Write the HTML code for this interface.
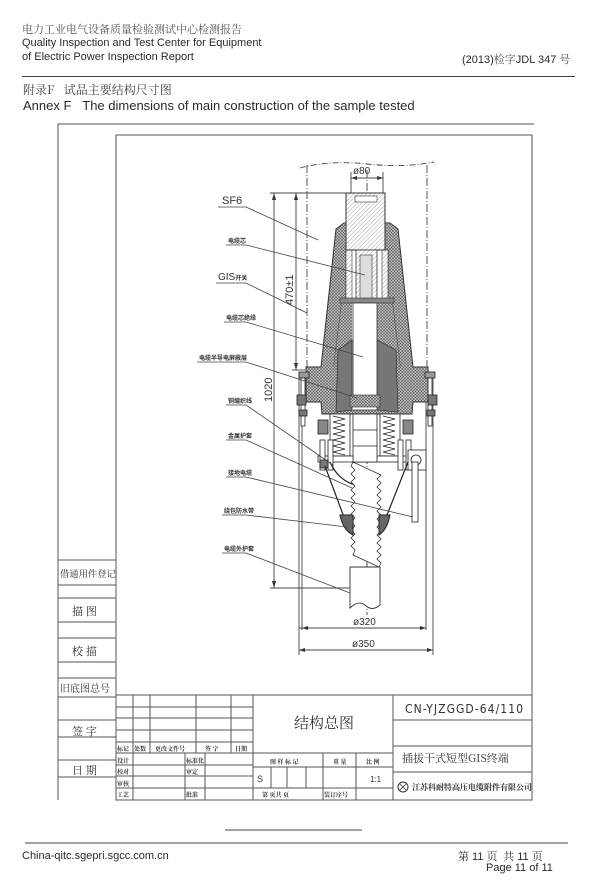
<!DOCTYPE html>
<html><head><meta charset="utf-8">
<style>
html,body{margin:0;padding:0;background:#fff;}
body{width:600px;height:883px;position:relative;overflow:hidden;font-family:"Liberation Sans","Noto Sans CJK SC",sans-serif;color:#2a2a2a;}
.t{position:absolute;white-space:nowrap;}
.cn{font-family:"Noto Serif CJK SC","Noto Sans CJK SC",serif;}
</style></head><body>
<div class="t cn" style="left:22px;top:21px;font-size:11px;color:#555;">电力工业电气设备质量检验测试中心检测报告</div>
<div class="t" style="left:22px;top:37px;font-size:11px;">Quality Inspection and Test Center for Equipment</div>
<div class="t" style="left:22px;top:51px;font-size:11px;">of Electric Power Inspection Report</div>
<div class="t" style="left:462px;top:51px;font-size:11px;">(2013)<span class="cn" style="color:#555">检字</span>JDL 347 <span class="cn" style="color:#555">号</span></div>
<div style="position:absolute;left:22px;top:76px;width:553px;height:1px;background:#444;"></div>
<div class="t cn" style="left:23px;top:81px;font-size:12px;color:#444;">附录F&nbsp;&nbsp;&nbsp;试品主要结构尺寸图</div>
<div class="t" style="left:23px;top:98px;font-size:13px;">Annex F&nbsp;&nbsp;&nbsp;The dimensions of main construction of the sample tested</div>

<svg style="position:absolute;left:0;top:0" width="600" height="883" viewBox="0 0 600 883" xmlns="http://www.w3.org/2000/svg">
<defs>
<pattern id="x" width="3" height="3" patternUnits="userSpaceOnUse">
<rect width="3" height="3" fill="#cccccc"/><path d="M0 0L3 3M3 0L0 3" stroke="#555" stroke-width="0.6"/>
</pattern>
<pattern id="h" width="3" height="3" patternUnits="userSpaceOnUse" patternTransform="rotate(45)">
<rect width="3" height="3" fill="#fff"/><line x1="0" y1="0" x2="0" y2="3" stroke="#666" stroke-width="0.6"/>
</pattern>
</defs>
<g fill="none" stroke="#555" stroke-width="1">
<polyline points="58,800 58,124 534,124"/>
<rect x="116" y="135" width="416" height="665"/>
<line x1="58" y1="560" x2="116" y2="560"/><line x1="58" y1="585" x2="116" y2="585"/>
<line x1="58" y1="598" x2="116" y2="598"/><line x1="58" y1="622" x2="116" y2="622"/>
<line x1="58" y1="638" x2="116" y2="638"/><line x1="58" y1="662" x2="116" y2="662"/>
<line x1="58" y1="678" x2="116" y2="678"/><line x1="58" y1="697" x2="116" y2="697"/>
<line x1="58" y1="720" x2="116" y2="720"/><line x1="58" y1="737" x2="116" y2="737"/>
<line x1="58" y1="760" x2="116" y2="760"/><line x1="58" y1="777" x2="116" y2="777"/>
<line x1="116" y1="695" x2="532" y2="695"/>
<line x1="116" y1="707" x2="253" y2="707"/><line x1="116" y1="718" x2="253" y2="718"/>
<line x1="116" y1="730" x2="253" y2="730"/><line x1="116" y1="742" x2="253" y2="742"/>
<line x1="116" y1="753" x2="253" y2="753"/><line x1="116" y1="765" x2="253" y2="765"/>
<line x1="116" y1="776" x2="253" y2="776"/><line x1="116" y1="788" x2="253" y2="788"/>
<line x1="133" y1="695" x2="133" y2="800"/><line x1="150" y1="695" x2="150" y2="753"/>
<line x1="196" y1="695" x2="196" y2="753"/><line x1="231" y1="695" x2="231" y2="753"/>
<line x1="185" y1="753" x2="185" y2="800"/><line x1="205" y1="753" x2="205" y2="800"/>
<line x1="253" y1="695" x2="253" y2="800"/>
<line x1="253" y1="753" x2="393" y2="753"/><line x1="253" y1="767" x2="393" y2="767"/><line x1="253" y1="788" x2="393" y2="788"/>
<line x1="271" y1="767" x2="271" y2="788"/><line x1="287" y1="767" x2="287" y2="788"/><line x1="306" y1="767" x2="306" y2="788"/>
<line x1="323" y1="753" x2="323" y2="800"/><line x1="356" y1="753" x2="356" y2="800"/>
<line x1="393" y1="695" x2="393" y2="800"/>
<line x1="393" y1="720" x2="532" y2="720"/><line x1="393" y1="746" x2="532" y2="746"/><line x1="393" y1="772" x2="532" y2="772"/>
</g>

<g stroke="#444" stroke-width="0.9" fill="none">
<path d="M300 168 Q330 160 367 164 T434 162" stroke-dasharray="6,2,1,2"/>
<line x1="307" y1="165" x2="307" y2="372" stroke-dasharray="8,2,1,2"/>
<line x1="427" y1="165" x2="427" y2="372" stroke-dasharray="8,2,1,2"/>
<line x1="367" y1="170" x2="367" y2="615" stroke-dasharray="8,2,1,2"/>
<line x1="299" y1="372" x2="299" y2="655"/>
<line x1="433" y1="372" x2="433" y2="655"/>
<line x1="302" y1="372" x2="302" y2="630"/>
<line x1="426" y1="372" x2="426" y2="630"/>
<line x1="299" y1="628" x2="426" y2="628"/>
<line x1="299" y1="650" x2="433" y2="650"/>
<line x1="351" y1="172" x2="351" y2="195"/><line x1="383" y1="172" x2="383" y2="195"/>
<line x1="351" y1="178" x2="383" y2="178"/>
<line x1="270" y1="193" x2="347" y2="193"/>
<line x1="274" y1="193" x2="274" y2="588"/>
<line x1="270" y1="588" x2="352" y2="588"/>
<line x1="296" y1="193" x2="296" y2="370"/>
<line x1="292" y1="370" x2="305" y2="370"/>
</g>
<g fill="#333">
<path d="M274 193l-2 7h4z"/><path d="M274 588l-2 -7h4z"/>
<path d="M296 193l-2 7h4z"/><path d="M296 370l-2 -7h4z"/>
<path d="M351 178l6 -2v4z"/><path d="M383 178l-6 -2v4z"/>
<path d="M302 628l6 -2v4z"/><path d="M426 628l-6 -2v4z"/>
<path d="M299 650l6 -2v4z"/><path d="M433 650l-6 -2v4z"/>
</g>

<path d="M336 229 L344 223 L390 223 L398 229 L413 367 L428 367 L428 402 L413 402 L412 414 L322 414 L321 402 L306 402 L306 367 L321 367 Z" fill="url(#x)" stroke="#333" stroke-width="1"/>
<path d="M346 250 L388 250 L388 300 L392 300 L400 365 L392 410 L342 410 L334 365 L342 300 L346 300 Z" fill="#fff" stroke="#333" stroke-width="0.8"/>
<path d="M346 250 L352 250 L352 300 L346 300 Z M382 250 L388 250 L388 300 L382 300 Z" fill="url(#h)" stroke="#333" stroke-width="0.6"/>
<path d="M342 300 L352 300 L352 398 L336 390 L334 365 Z" fill="url(#x)" stroke="none"/>
<path d="M392 300 L377 300 L377 398 L398 390 L400 365 Z" fill="url(#x)" stroke="none"/>
<path d="M338 350 L352 340 L352 410 L336 412 Z" fill="#777" stroke="#222" stroke-width="0.6"/>
<path d="M396 350 L377 340 L377 410 L398 412 Z" fill="#777" stroke="#222" stroke-width="0.6"/>
<rect x="346" y="193" width="39" height="57" fill="url(#h)" stroke="#333"/>
<rect x="355" y="196" width="22" height="6" fill="#fff" stroke="#333" stroke-width="0.6"/>
<rect x="356" y="250" width="21" height="50" fill="url(#h)" stroke="#333" stroke-width="0.8"/>
<rect x="360" y="255" width="12" height="45" fill="#ddd" stroke="#333" stroke-width="0.6"/>
<rect x="340" y="298" width="54" height="5" fill="#888" stroke="#333" stroke-width="0.6"/>
<rect x="353" y="303" width="24" height="95" fill="#fff" stroke="#333" stroke-width="0.8"/>
<rect x="350" y="395" width="30" height="12" fill="url(#x)" stroke="#333" stroke-width="0.6"/>
<g stroke="#222" stroke-width="0.8">
<rect x="299" y="372" width="10" height="6" fill="#999"/><rect x="301" y="378" width="4" height="48" fill="#fff"/>
<rect x="297" y="395" width="9" height="10" fill="#777"/><rect x="299" y="410" width="8" height="6" fill="#777"/>
<rect x="425" y="372" width="10" height="6" fill="#999"/><rect x="428" y="378" width="4" height="48" fill="#fff"/>
<rect x="428" y="395" width="9" height="10" fill="#777"/><rect x="427" y="410" width="8" height="6" fill="#777"/>
<rect x="330" y="414" width="20" height="42" fill="#fff"/>
<rect x="380" y="414" width="20" height="42" fill="#fff"/>
<path d="M333 416 l12 3 l-12 3 l12 3 l-12 3 l12 3 l-12 3 l12 3 l-12 3 l12 3 l-12 3 l12 3 l-12 3 l12 3" fill="none"/>
<path d="M383 416 l12 3 l-12 3 l12 3 l-12 3 l12 3 l-12 3 l12 3 l-12 3 l12 3 l-12 3 l12 3 l-12 3 l12 3" fill="none"/>
<rect x="318" y="420" width="10" height="14" fill="#888"/><rect x="403" y="420" width="10" height="14" fill="#888"/>
<rect x="318" y="456" width="95" height="6" fill="#fff"/>
<rect x="320" y="440" width="5" height="30" fill="#fff"/><rect x="328" y="440" width="5" height="30" fill="#fff"/>
<rect x="398" y="440" width="5" height="30" fill="#fff"/><rect x="406" y="440" width="5" height="30" fill="#fff"/>
<rect x="320" y="460" width="8" height="8" fill="#777"/>
<rect x="353" y="414" width="24" height="48" fill="#fff"/>
<line x1="353" y1="430" x2="377" y2="430"/><line x1="353" y1="446" x2="377" y2="446"/>
<rect x="408" y="450" width="18" height="20" fill="#fff"/>
<circle cx="416" cy="460" r="5" fill="#fff"/>
<rect x="412" y="462" width="6" height="60" fill="#fff"/>
</g>
<g stroke="#222" stroke-width="1.2" fill="none">
<path d="M325 466 L345 520 M330 462 Q338 480 355 485"/>
<path d="M408 462 L385 520"/>
</g>
<path d="M353 462 l-2 4 l4 4 l-4 4 l4 4 l-4 4 l4 4 l-4 4 l4 4 l-4 4 l4 4 l-4 4 l4 4 l-4 4 l4 4 l-4 4 l4 4 l-4 4 l4 4 l-4 4 l4 4 l-4 4 l4 4 l-2 5 L379 567 l2 -4 l-4 -4 l4 -4 l-4 -4 l4 -4 l-4 -4 l4 -4 l-4 -4 l4 -4 l-4 -4 l4 -4 l-4 -4 l4 -4 l-4 -4 l4 -4 l-4 -4 l4 -4 l-4 -4 l4 -4 l-4 -4 l4 -4 l-4 -4 l4 -4 Z" fill="#fff" stroke="#333" stroke-width="0.8"/>
<path d="M340 515 Q343 530 353 535 L353 515 Z" fill="#666" stroke="#222"/>
<path d="M390 515 Q387 530 379 535 L379 515 Z" fill="#666" stroke="#222"/>
<path d="M350 567 L380 567 L380 605 Q372 612 365 605 Q358 600 350 608 Z" fill="#fff" stroke="#333" stroke-width="0.9"/>

<g stroke="#444" stroke-width="0.8" fill="none">
<polyline points="218,207 246,207 318,240"/>
<polyline points="226,245 246,245 365,275"/>
<polyline points="216,283 246,283 307,313"/>
<polyline points="224,322 246,322 363,357"/>
<polyline points="197,362 246,362 357,398"/>
<polyline points="226,405 246,405 333,465"/>
<polyline points="226,440 246,440 352,488"/>
<polyline points="226,477 246,477 413,517"/>
<polyline points="222,515 246,515 347,527"/>
<polyline points="222,553 246,553 350,593"/>
</g>
<g font-family="Liberation Sans, sans-serif" fill="#333">
<text x="222" y="204" font-size="11">SF6</text>
<text x="218" y="280" font-size="10">GIS<tspan font-size="6" font-family="Noto Sans CJK SC" font-weight="bold">开关</tspan></text>
<text x="353" y="174" font-size="10">ø80</text>
<text x="353" y="625" font-size="10">ø320</text>
<text x="352" y="647" font-size="10">ø350</text>
<text transform="translate(272,402) rotate(-90)" font-size="11">1020</text>
<text transform="translate(293,305) rotate(-90)" font-size="11">470±1</text>
</g>
<g font-family="Noto Sans CJK SC, sans-serif" font-size="6" font-weight="bold" fill="#333">
<text x="228" y="243">电缆芯</text>
<text x="226" y="320">电缆芯绝缘</text>
<text x="199" y="360">电缆半导电屏蔽层</text>
<text x="228" y="403">铜编织线</text>
<text x="228" y="438">金属护套</text>
<text x="228" y="475">接地电缆</text>
<text x="224" y="513">绕包防水带</text>
<text x="224" y="551">电缆外护套</text>
</g>
<g font-family="Noto Serif CJK SC, Noto Sans CJK SC, serif" fill="#333">
<text x="60" y="577" font-size="9.3">借通用件登记</text>
<text x="72" y="615" font-size="11">描  图</text>
<text x="72" y="655" font-size="11">校  描</text>
<text x="60" y="692" font-size="10">旧底图总号</text>
<text x="72" y="735" font-size="11">签  字</text>
<text x="72" y="774" font-size="11">日  期</text>
<text x="294" y="728" font-size="15">结构总图</text>
<text x="402" y="762" font-size="11">插拔干式短型GIS终端</text>
<text x="412" y="790" font-size="8" font-weight="bold">江苏科耐特高压电缆附件有限公司</text>
<g font-size="6" font-weight="bold">
<text x="117" y="751">标记</text><text x="134" y="751">处数</text><text x="155" y="751">更改文件号</text><text x="205" y="751">签 字</text><text x="235" y="751">日期</text>
<text x="117" y="763">设计</text><text x="117" y="774">校对</text><text x="117" y="786">审核</text><text x="117" y="797">工艺</text>
<text x="186" y="763">标准化</text><text x="186" y="774">审定</text><text x="186" y="797">批准</text>
<text x="270" y="764">图 样 标 记</text><text x="333" y="764">重 量</text><text x="366" y="764">比 例</text>
<text x="262" y="797">第   页共   页</text><text x="324" y="797">装订序号</text>
</g>
<text x="257" y="782" font-size="9" font-family="Liberation Sans">S</text>
<text x="370" y="782" font-size="8" font-family="Liberation Sans">1:1</text>
</g>
<text x="405" y="713" font-size="12" font-family="DejaVu Sans Condensed, Liberation Sans, sans-serif" fill="#333" textLength="118">CN-YJZGGD-64/110</text>
<circle cx="403" cy="787" r="5" fill="none" stroke="#333"/>
<path d="M400 784l6 6M406 784l-6 6" stroke="#333" stroke-width="0.8"/>
<line x1="225" y1="830" x2="362" y2="830" stroke="#444"/>
<line x1="25" y1="843" x2="568" y2="843" stroke="#444"/>
</svg>
<div class="t" style="left:22px;top:850px;font-size:11px;">China-qitc.sgepri.sgcc.com.cn</div>
<div class="t" style="left:458px;top:848px;font-size:11px;"><span class="cn">第</span> 11 <span class="cn">页&nbsp;&nbsp;共</span> 11 <span class="cn">页</span></div>
<div class="t" style="left:486px;top:862px;font-size:11px;">Page 11 of 11</div>
</body></html>
